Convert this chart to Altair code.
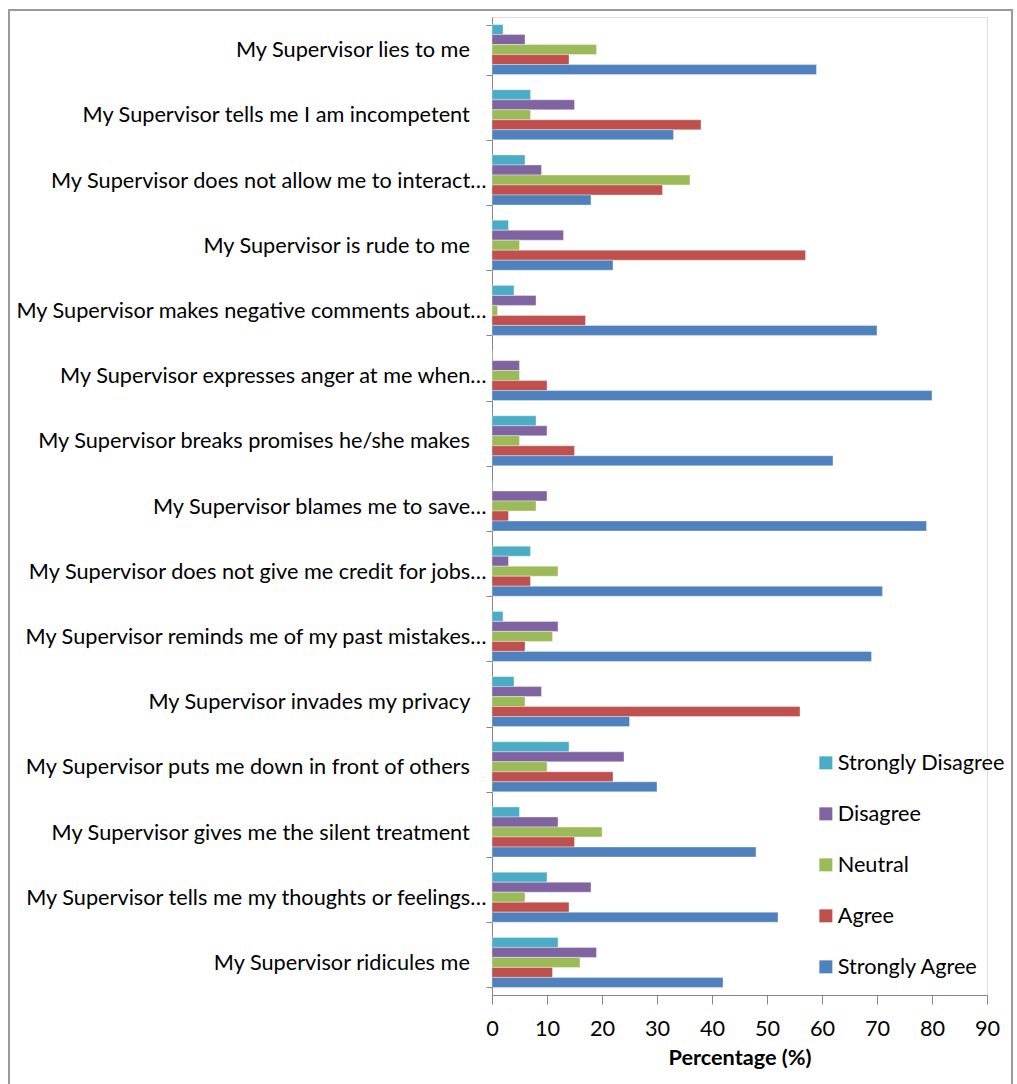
import altair as alt
import pandas as pd

categories = [
    "My Supervisor lies to me",
    "My Supervisor tells me I am incompetent",
    "My Supervisor does not allow me to interact…",
    "My Supervisor is rude to me",
    "My Supervisor makes negative comments about…",
    "My Supervisor expresses anger at me when…",
    "My Supervisor breaks promises he/she makes",
    "My Supervisor blames me to save…",
    "My Supervisor does not give me credit for jobs…",
    "My Supervisor reminds me of my past mistakes…",
    "My Supervisor invades my privacy",
    "My Supervisor puts me down in front of others",
    "My Supervisor gives me the silent treatment",
    "My Supervisor tells me my thoughts or feelings…",
    "My Supervisor ridicules me",
]
series = ["Strongly Disagree", "Disagree", "Neutral", "Agree", "Strongly Agree"]
strongly_disagree = [2, 7, 6, 3, 4, 0, 8, 0, 7, 2, 4, 14, 5, 10, 12]
disagree = [6, 15, 9, 13, 8, 5, 10, 10, 3, 12, 9, 24, 12, 18, 19]
neutral = [19, 7, 36, 5, 1, 5, 5, 8, 12, 11, 6, 10, 20, 6, 16]
agree = [14, 38, 31, 57, 17, 10, 15, 3, 7, 6, 56, 22, 15, 14, 11]
strongly_agree = [59, 33, 18, 22, 70, 80, 62, 79, 71, 69, 25, 30, 48, 52, 42]
colors = ["#4BACC6", "#8064A2", "#9BBB59", "#C0504D", "#4F81BD"]

values = [strongly_disagree, disagree, neutral, agree, strongly_agree]
rows = []
for s, vals in zip(series, values):
    for c, v in zip(categories, vals):
        rows.append({"Statement": c, "Response": s, "Percentage": v})
df = pd.DataFrame(rows)

FONT = "Lato"
FS = 21.7

bars = alt.Chart(df).mark_bar(stroke="white", strokeWidth=0.6, strokeOpacity=0.6).encode(
    x=alt.X(
        "Percentage:Q",
        scale=alt.Scale(domain=[0, 90], nice=False),
        axis=alt.Axis(
            values=list(range(0, 91, 10)),
            title="Percentage (%)",
            titleFont=FONT,
            titleFontSize=FS,
            titleFontWeight="bold",
            titleColor="black",
            titlePadding=8,
            labelFont=FONT,
            labelFontSize=FS,
            labelColor="black",
            labelPadding=14,
            labelFlush=False,
            labelOverlap=False,
            tickSize=9,
            tickColor="#868686",
            domainColor="#868686",
            grid=False,
        ),
    ),
    y=alt.Y(
        "Statement:N",
        sort=categories,
        scale=alt.Scale(paddingInner=0.233, paddingOuter=0.1165),
        axis=alt.Axis(
            title=None,
            labelFont=FONT,
            labelFontSize=FS,
            labelColor="black",
            labelLimit=0,
            labelPadding=0,
            tickSize=6,
            tickBand="extent",
            tickColor="#868686",
            domainColor="#868686",
            grid=False,
            labelExpr="indexof(datum.label, '…') < 0 ? datum.label + '\u00a0\u00a0\u00a0\u200b' : datum.label",
        ),
    ),
    yOffset=alt.YOffset("Response:N", sort=series, scale=alt.Scale(paddingInner=0, paddingOuter=0)),
    color=alt.Color(
        "Response:N",
        sort=series,
        scale=alt.Scale(domain=series, range=colors),
        legend=alt.Legend(
            title=None,
            orient="none",
            legendX=323,
            legendY=735,
            labelFont=FONT,
            labelFontSize=FS,
            labelColor="black",
            labelLimit=0,
            symbolType="square",
            symbolSize=169,
            symbolStrokeWidth=0,
            labelOffset=1,
            rowPadding=28.0,
        ),
    ),
)

frame = alt.Chart(alt.Data(values=[{}])).mark_rect(
    fillOpacity=0, stroke="#9a9a9a", strokeWidth=2
).encode(
    x=alt.value(-483), x2=alt.value(520), y=alt.value(-7), y2=alt.value(1090)
)

chart = alt.layer(frame, bars).properties(
    width=495,
    height=978,
    autosize="none",
    padding={"left": 492, "top": 17, "right": 30, "bottom": 89},
).configure_view(stroke=None).configure(background="white")

chart.save("out.html", embed_options={"renderer": "svg", "actions": False})
